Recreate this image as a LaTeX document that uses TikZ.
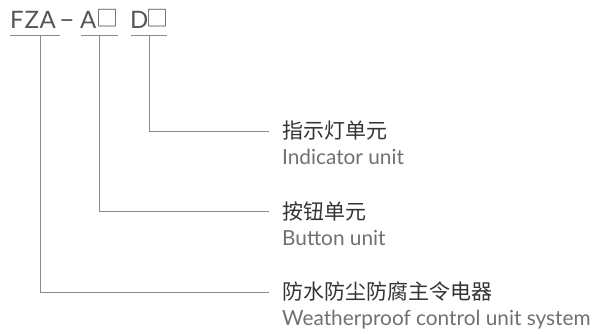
\documentclass[tikz,border=0pt]{standalone}
\usepackage{fontspec}
\setmainfont{Lato}
\newfontfamily\cjk{Noto Sans CJK SC}
\definecolor{linegray}{HTML}{8A8A8A}
\definecolor{cntext}{HTML}{333333}
\definecolor{entext}{HTML}{707070}
\definecolor{hdtext}{HTML}{555555}
\begin{document}
\begin{tikzpicture}[x=1pt,y=1pt,
  conn/.style={draw=linegray,line width=0.9pt},
  uline/.style={draw=linegray,line width=0.9pt},
  hd/.style={anchor=base west,inner sep=0pt,text=hdtext,font=\fontsize{24}{24}\selectfont\addfontfeature{LetterSpace=3}},
  box/.style={anchor=base west,inner sep=0pt,text=hdtext,font=\cjk\fontsize{22}{22}\selectfont},
  cn/.style={anchor=west,inner sep=0pt,text=cntext,font=\cjk\fontsize{21}{21}\selectfont},
  en/.style={anchor=base west,inner sep=0pt,text=entext,font=\fontsize{20.8}{20.8}\selectfont}]
\useasboundingbox (0,0) rectangle (592,-333);
% header
\node[hd] (fza) at (10,-28) {FZA};
\node[hd,font=\fontsize{27}{27}\selectfont] (dash) at (59,-28) {–};
\node[hd] (a) at (80,-28) {A};
\node[box] (abox) at (96,-26) {□};
\node[hd] (d) at (130,-28) {D};
\node[box] (dbox) at (146,-26) {□};
% underlines
\coordinate (u1a) at (10,-35); \coordinate (u1b) at (60,-35);
\coordinate (u2a) at (81,-35); \coordinate (u2b) at (118,-35);
\coordinate (u3a) at (131,-35); \coordinate (u3b) at (167,-35);
\draw[uline] (u1a) -- (u1b);
\draw[uline] (u2a) -- (u2b);
\draw[uline] (u3a) -- (u3b);
\coordinate (v1) at (40,-35);
\coordinate (v2) at (99.5,-35);
\coordinate (v3) at (149.5,-35);
% labels
\node[cn] (c1) at (282,-131) {指示灯单元};
\node[en] (e1) at (282,-164) {Indicator unit};
\node[cn] (c2) at (282,-211) {按钮单元};
\node[en] (e2) at (282,-245) {Button unit};
\node[cn] (c3) at (282,-292) {防水防尘防腐主令电器};
\node[en] (e3) at (282,-325) {Weatherproof control unit system};
\coordinate (t1) at (269,-131);
\coordinate (t2) at (269,-211);
\coordinate (t3) at (269,-292);
\draw[conn] (v3) |- (t1);
\draw[conn] (v2) |- (t2);
\draw[conn] (v1) |- (t3);
\end{tikzpicture}
\end{document}
